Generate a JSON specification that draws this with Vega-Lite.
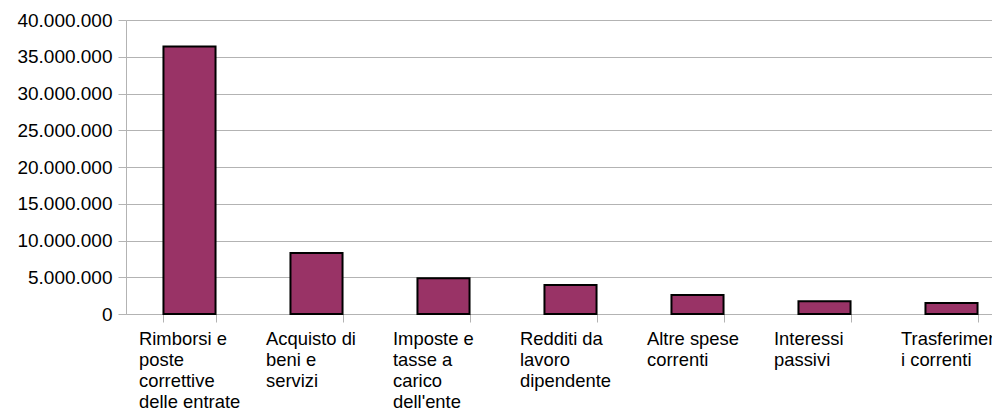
{
  "$schema": "https://vega.github.io/schema/vega-lite/v6.json",
  "autosize": {"type": "none"},
  "padding": {"left": 126, "top": 20, "right": 0, "bottom": 95},
  "width": 889,
  "height": 294,
  "background": "white",
  "config": {
    "font": "Liberation Sans",
    "view": {"stroke": null}
  },
  "data": {
    "values": [
      {"ordine": 1, "voce": "Rimborsi e|poste|correttive|delle entrate", "importo": 36400000},
      {"ordine": 2, "voce": "Acquisto di|beni e|servizi", "importo": 8300000},
      {"ordine": 3, "voce": "Imposte e|tasse a|carico|dell'ente", "importo": 4850000},
      {"ordine": 4, "voce": "Redditi da|lavoro|dipendente", "importo": 3950000},
      {"ordine": 5, "voce": "Altre spese|correnti", "importo": 2600000},
      {"ordine": 6, "voce": "Interessi|passivi", "importo": 1750000},
      {"ordine": 7, "voce": "Trasferiment|i correnti", "importo": 1500000}
    ]
  },
  "mark": {"type": "bar", "color": "#993366", "stroke": "#000000", "strokeWidth": 2},
  "encoding": {
    "x": {
      "field": "voce",
      "type": "nominal",
      "sort": {"field": "ordine"},
      "scale": {"paddingInner": 0.59, "paddingOuter": 0.295},
      "axis": {
        "title": null,
        "tickBand": "extent",
        "labelAngle": 0,
        "labelAlign": "left",
        "labelBaseline": "alphabetic",
        "labelOffset": -51,
        "labelPadding": 22,
        "labelFontSize": 18.4,
        "labelColor": "#000000",
        "labelLineHeight": 21,
        "labelLimit": 400,
        "labelExpr": "split(datum.label, '|')",
        "tickSize": 8,
        "tickColor": "#b3b3b3",
        "domainColor": "#b3b3b3",
        "grid": false
      }
    },
    "y": {
      "field": "importo",
      "type": "quantitative",
      "scale": {"domain": [0, 40000000], "nice": false},
      "axis": {
        "title": null,
        "values": [0, 5000000, 10000000, 15000000, 20000000, 25000000, 30000000, 35000000, 40000000],
        "labelExpr": "replace(format(datum.value, ',d'), /,/g, '.')",
        "labelFontSize": 19,
        "labelColor": "#000000",
        "labelPadding": 6,
        "tickSize": 8,
        "tickColor": "#b3b3b3",
        "domainColor": "#b3b3b3",
        "gridColor": "#b3b3b3",
        "gridOpacity": 1
      }
    }
  }
}
